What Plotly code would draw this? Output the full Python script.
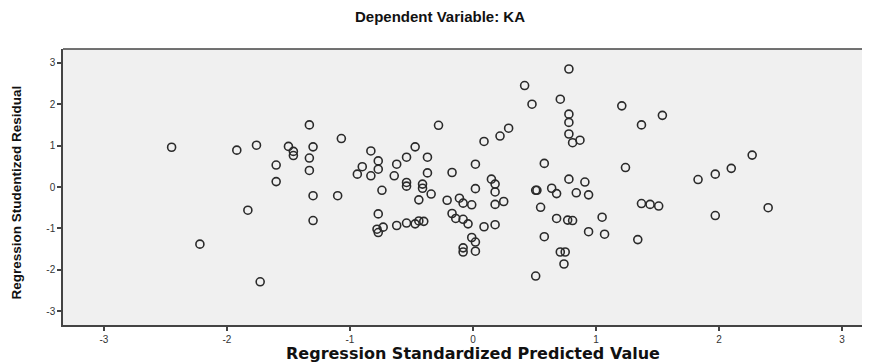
import plotly.graph_objects as go

# Regression Standardized Predicted Value (x) and Studentized Residual (y)
pred = [-2.45, -1.92, -1.76, -1.50, -1.46, -1.46, -1.60, -1.60, -1.83, -2.22, -1.73,
        -1.33, -1.07, -1.30, -1.33, -1.33, -1.30, -1.10, -1.30,
        -0.83, -0.77, -0.90, -0.77, -0.94, -0.83, -0.62, -0.64, -0.74, -0.77, -0.73, -0.78, -0.77, -0.62,
        -0.28, 0.09, -0.47, -0.54, -0.37, -0.37, -0.17, 0.02, -0.54, -0.54, -0.41, -0.41, -0.34, -0.44,
        -0.21, -0.11, -0.08, -0.01, 0.02, -0.17, -0.14, -0.08, -0.04, 0.09, -0.54, -0.47, -0.44, -0.40,
        -0.01, 0.02, -0.08, -0.08, 0.02,
        0.78, 0.42, 0.48, 0.71, 0.78, 0.78, 0.78, 0.81, 0.87, 0.29, 0.22, 0.58, 0.15, 0.18, 0.18, 0.18,
        0.25, 0.18, 0.51, 0.52, 0.64, 0.68, 0.78, 0.84, 0.55, 0.68, 0.77, 0.81, 0.58, 0.71, 0.75, 0.74, 0.51,
        1.21, 1.54, 1.37, 1.24, 0.91, 0.94, 1.37, 1.44, 1.51, 1.05, 0.94, 1.07, 1.34,
        1.83, 1.97, 2.10, 2.27, 1.97, 2.40]
resid = [0.96, 0.89, 1.01, 0.98, 0.86, 0.76, 0.53, 0.13, -0.56, -1.38, -2.29,
         1.50, 1.17, 0.97, 0.70, 0.40, -0.21, -0.21, -0.81,
         0.87, 0.63, 0.49, 0.43, 0.31, 0.27, 0.55, 0.27, -0.08, -0.65, -0.97, -1.02, -1.10, -0.93,
         1.49, 1.10, 0.97, 0.72, 0.72, 0.34, 0.35, 0.55, 0.11, 0.02, 0.07, -0.03, -0.17, -0.31,
         -0.32, -0.27, -0.39, -0.43, -0.04, -0.64, -0.76, -0.78, -0.89, -0.96, -0.87, -0.89, -0.82, -0.83,
         -1.22, -1.33, -1.47, -1.57, -1.55,
         2.85, 2.45, 2.00, 2.12, 1.76, 1.56, 1.28, 1.07, 1.13, 1.42, 1.23, 0.57, 0.19, 0.07, -0.12, -0.42,
         -0.35, -0.91, -0.08, -0.08, -0.03, -0.16, 0.19, -0.14, -0.49, -0.76, -0.80, -0.81, -1.20, -1.57, -1.57, -1.86, -2.15,
         1.96, 1.73, 1.50, 0.47, 0.12, -0.19, -0.40, -0.42, -0.46, -0.73, -1.08, -1.14, -1.27,
         0.18, 0.31, 0.45, 0.77, -0.69, -0.50]

tick_vals = [-3, -2, -1, 0, 1, 2, 3]
tick_text = ["-3", "-2", "-1", "0", "1", "2", "3"]

title_text = "Dependent Variable: KA"
x_title = "Regression Standardized Predicted Value"
y_title = "Regression Studentized Residual"

fig = go.Figure()
fig.add_trace(go.Scatter(
    x=pred, y=resid, mode="markers",
    marker=dict(symbol="circle-open", size=8, color="#2a2a2a", line=dict(width=1.6)),
    showlegend=False, hoverinfo="skip"))

axis_common = dict(
    showgrid=False, zeroline=False, showline=True, linecolor="#444444", linewidth=1.5,
    ticks="outside", ticklen=4, tickwidth=1.5, tickcolor="#444444",
    tickfont=dict(family="Liberation Sans, Arial", size=10, color="#333333"),
    tickvals=tick_vals, ticktext=tick_text, fixedrange=True, automargin=False)

# page body has an 8px margin; size the figure so the plot area lands where the reference has it
fig.update_layout(
    width=862, height=355,
    margin=dict(l=55, r=0, t=41, b=38),
    paper_bgcolor="white", plot_bgcolor="#f0f0f0",
    xaxis=dict(range=[-3.333, 3.228], **axis_common),
    yaxis=dict(range=[-3.333, 3.333], **axis_common),
    annotations=[
        dict(text="<b>%s</b>" % title_text, xref="paper", yref="paper", x=0.467, y=1.116,
             showarrow=False, xanchor="center", yanchor="middle",
             font=dict(family="Liberation Sans, Arial", size=15, color="#111111")),
        dict(text="<b>%s</b>" % x_title, xref="paper", yref="paper", x=0.508, y=-0.103,
             showarrow=False, xanchor="center", yanchor="middle",
             font=dict(family="DejaVu Sans", size=16, color="#111111")),
        dict(text="<b>%s</b>" % y_title, xref="paper", yref="paper", x=-0.057, y=0.48,
             showarrow=False, xanchor="center", yanchor="middle", textangle=-90,
             font=dict(family="Liberation Sans, Arial", size=13.5, color="#111111")),
    ],
)
fig.add_shape(type="line", xref="paper", yref="paper", x0=0, x1=1, y0=1, y1=1,
              line=dict(color="#444444", width=1.5))

fig.write_html("out.html")
